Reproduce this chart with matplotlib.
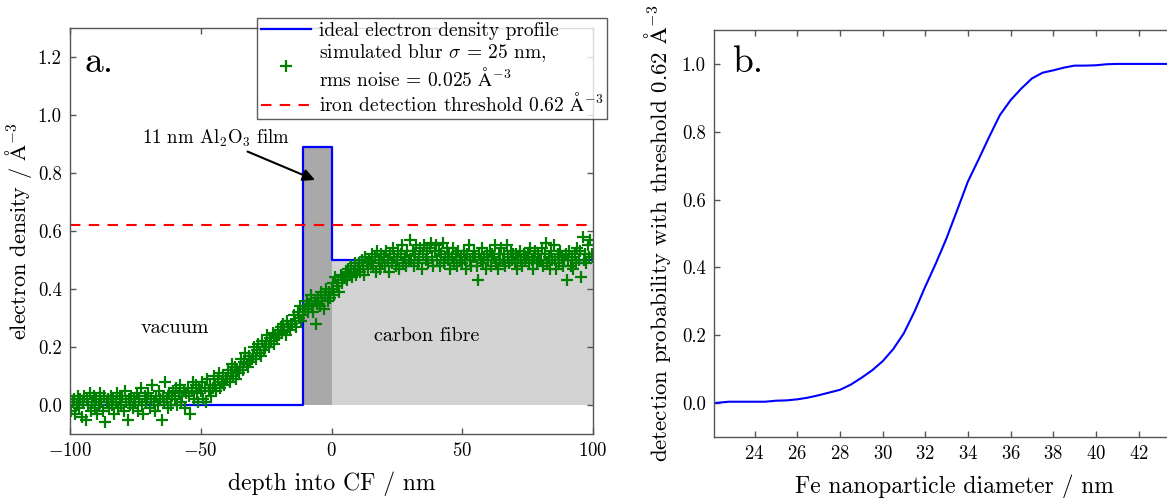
import numpy as np
import matplotlib
matplotlib.use("Agg")
import matplotlib.pyplot as plt

plt.rcParams['font.family'] = 'serif'
plt.rcParams['font.serif'] = ['cmr10']
plt.rcParams['mathtext.fontset'] = 'cm'
plt.rcParams['axes.formatter.use_mathtext'] = True
plt.rcParams['axes.unicode_minus'] = True

# panel a: ideal profile (step edges) and simulated noisy blurred profile
profile_x = [-100, -11, -11, 0, 0, 100]
profile_y = [0.0, 0.0, 0.89, 0.89, 0.5, 0.5]
film_x = [-11, 0]
film_top = 0.89
fibre_x = [0, 100]
fibre_top = 0.5
threshold = 0.62

depth = np.arange(-100, 100.5, 0.5)
density = [
    0.03, -0.02, 0.01, 0.02, -0.03, 0.00, 0.03, -0.01, 0.02, -0.04,
    0.01, 0.03, -0.05, 0.02, 0.00, 0.04, -0.02, 0.01, 0.03, -0.01,
    0.02, -0.03, 0.00, 0.04, 0.01, -0.02, 0.03, -0.06, 0.01, 0.02,
    -0.01, 0.03, 0.00, 0.02, -0.03, 0.01, 0.04, -0.01, 0.02, 0.00,
    0.03, -0.02, 0.05, 0.01, -0.05, 0.02, 0.00, 0.03, -0.01, 0.02,
    0.01, 0.04, -0.02, 0.02, 0.06, 0.00, -0.03, 0.03, 0.01, 0.02,
    0.04, -0.01, 0.02, 0.07, 0.01, -0.02, 0.03, 0.00, 0.05, 0.02,
    -0.05, 0.03, 0.01, 0.08, 0.02, -0.01, 0.04, 0.00, 0.03, 0.05,
    0.02, 0.06, 0.00, 0.04, 0.07, 0.01, 0.03, 0.05, -0.01, 0.04,
    0.06, 0.03, -0.03, 0.05, 0.08, 0.02, 0.07, 0.04, 0.01, 0.06,
    0.05, 0.08, 0.02, 0.06, 0.01, 0.09, 0.05, 0.07, 0.03, 0.06,
    0.10, 0.07, 0.05, 0.09, 0.11, 0.06, 0.08, 0.10, 0.07, 0.09,
    0.09, 0.12, 0.08, 0.11, 0.14, 0.10, 0.13, 0.09, 0.12, 0.11,
    0.13, 0.16, 0.12, 0.15, 0.18, 0.14, 0.13, 0.17, 0.15, 0.16,
    0.17, 0.20, 0.16, 0.19, 0.21, 0.18, 0.17, 0.22, 0.19, 0.20,
    0.21, 0.24, 0.20, 0.23, 0.22, 0.25, 0.21, 0.24, 0.23, 0.26,
    0.24, 0.27, 0.25, 0.28, 0.26, 0.24, 0.29, 0.27, 0.26, 0.28,
    0.28, 0.31, 0.29, 0.27, 0.32, 0.30, 0.34, 0.29, 0.31, 0.33,
    0.33, 0.36, 0.32, 0.35, 0.38, 0.34, 0.32, 0.36, 0.28, 0.35,
    0.37, 0.34, 0.39, 0.36, 0.33, 0.38, 0.40, 0.36, 0.39, 0.37,
    0.40, 0.42, 0.38, 0.44, 0.41, 0.43, 0.39, 0.45, 0.42, 0.44,
    0.44, 0.46, 0.43, 0.47, 0.45, 0.48, 0.44, 0.46, 0.49, 0.45,
    0.47, 0.49, 0.46, 0.50, 0.48, 0.45, 0.51, 0.49, 0.47, 0.50,
    0.49, 0.52, 0.48, 0.51, 0.46, 0.53, 0.50, 0.47, 0.52, 0.49,
    0.51, 0.48, 0.53, 0.50, 0.46, 0.52, 0.49, 0.54, 0.51, 0.48,
    0.50, 0.53, 0.47, 0.52, 0.55, 0.49, 0.51, 0.48, 0.53, 0.50,
    0.57, 0.50, 0.53, 0.48, 0.52, 0.55, 0.49, 0.51, 0.54, 0.47,
    0.52, 0.55, 0.50, 0.53, 0.49, 0.54, 0.56, 0.51, 0.48, 0.53,
    0.55, 0.50, 0.53, 0.48, 0.52, 0.56, 0.49, 0.51, 0.54, 0.50,
    0.52, 0.47, 0.51, 0.54, 0.49, 0.52, 0.48, 0.53, 0.50, 0.51,
    0.49, 0.53, 0.50, 0.47, 0.52, 0.55, 0.50, 0.48, 0.51, 0.53,
    0.51, 0.48, 0.43, 0.52, 0.50, 0.54, 0.49, 0.51, 0.47, 0.52,
    0.50, 0.53, 0.48, 0.52, 0.51, 0.55, 0.49, 0.47, 0.52, 0.50,
    0.54, 0.50, 0.52, 0.48, 0.55, 0.51, 0.49, 0.53, 0.50, 0.52,
    0.49, 0.52, 0.47, 0.51, 0.53, 0.50, 0.48, 0.52, 0.50, 0.51,
    0.52, 0.49, 0.54, 0.50, 0.47, 0.51, 0.53, 0.49, 0.52, 0.50,
    0.50, 0.54, 0.48, 0.52, 0.56, 0.49, 0.51, 0.47, 0.53, 0.50,
    0.55, 0.50, 0.47, 0.52, 0.49, 0.53, 0.51, 0.48, 0.50, 0.52,
    0.43, 0.50, 0.53, 0.48, 0.51, 0.47, 0.52, 0.49, 0.54, 0.50,
    0.53, 0.44, 0.58, 0.50, 0.52, 0.49, 0.55, 0.51, 0.57, 0.52,
    0.51,
]

# panel b: detection probability vs particle diameter
diameter = [22.1, 22.8, 24.5, 25.0, 25.5, 26.0, 26.5, 27.0, 27.5, 28.0,
            28.5, 29.0, 29.5, 30.0, 30.5, 31.0, 31.5, 32.0, 32.5, 33.0,
            33.5, 34.0, 34.5, 35.0, 35.5, 36.0, 36.5, 37.0, 37.5, 38.0,
            38.5, 39.0, 39.5, 40.0, 40.5, 41.0, 42.0, 43.0, 44.0, 45.0]
probability = [0.0, 0.004, 0.004, 0.007, 0.008, 0.011, 0.016, 0.023, 0.031, 0.039,
               0.054, 0.074, 0.096, 0.123, 0.159, 0.206, 0.27, 0.343, 0.412, 0.486,
               0.569, 0.653, 0.718, 0.785, 0.849, 0.893, 0.927, 0.957, 0.974, 0.981,
               0.989, 0.995, 0.995, 0.996, 0.999, 1.0, 1.0, 1.0, 1.0, 1.0]

W, H = 1167, 498
fig = plt.figure(figsize=(W / 100, H / 100), dpi=100)
ax1 = fig.add_axes([70 / W, 1 - 434 / H, 523 / W, 406 / H])
ax2 = fig.add_axes([714 / W, 1 - 437 / H, 480 / W, 407 / H])

spine_col = '#555555'
for ax in (ax1, ax2):
    for s in ax.spines.values():
        s.set_color(spine_col)
        s.set_linewidth(1.0)
    ax.tick_params(direction='in', length=4, width=1, color=spine_col,
                   top=True, right=True, labelsize=13.5, pad=6)

# panel a
ax1.fill_between(fibre_x, 0, fibre_top, color='#d3d3d3', lw=0)
ax1.fill_between(film_x, 0, film_top, color='#a9a9a9', lw=0)
ax1.plot(profile_x, profile_y, color='blue', lw=1.6,
         label='ideal electron density profile')
ax1.plot(depth, density, '+', color='green', ms=8, mew=1.6, ls='none',
         label='simulated blur $\\sigma$ = 25 nm,\nrms noise = 0.025 $\\mathrm{\\AA}^{-3}$')
ax1.axhline(threshold, color='red', ls='--', lw=1.5, dashes=(5, 4),
            label='iron detection threshold 0.62 $\\mathrm{\\AA}^{-3}$')
ax1.set_xlim(-100, 100)
ax1.set_ylim(-0.1, 1.3)
ax1.set_xticks([-100, -50, 0, 50, 100])
ax1.set_yticks([0.0, 0.2, 0.4, 0.6, 0.8, 1.0, 1.2])
ax1.yaxis.set_major_formatter(plt.FuncFormatter(lambda v, p: f'{v:.1f}'))
ax1.set_xlabel('depth into CF / nm', fontsize=17, labelpad=8)
ax1.set_ylabel('electron density / $\\mathrm{\\AA}^{-3}$', fontsize=16, labelpad=3)
ax1.text(-94.6, 1.148, 'a.', fontsize=27)
ax1.text(-60, 0.265, 'vacuum', fontsize=14.5, ha='center', va='center')
ax1.text(36.5, 0.238, 'carbon fibre', fontsize=14.5, ha='center', va='center')
ax1.annotate('11 nm Al$_2$O$_3$ film', xy=(-6.3, 0.776), xytext=(-16, 0.92),
             ha='right', va='center', fontsize=13.5,
             arrowprops=dict(arrowstyle='-|>', color='black', lw=1.5,
                             mutation_scale=18, shrinkA=0, shrinkB=0))

leg = fig.legend(loc='upper left', bbox_to_anchor=(257 / W, 1 - 18 / H),
                 fontsize=14, frameon=True, fancybox=False, borderpad=0.2,
                 handlelength=2.6, labelspacing=0.1, handletextpad=0.4,
                 borderaxespad=0)
leg.get_frame().set_edgecolor('#333333')
leg.get_frame().set_linewidth(1.0)

# panel b
ax2.plot(diameter, probability, color='blue', lw=1.5)
ax2.set_xlim(22.1, 44.6)
ax2.set_ylim(-0.1, 1.1)
ax2.set_xticks([24, 26, 28, 30, 32, 34, 36, 38, 40, 42])
ax2.set_yticks([0.0, 0.2, 0.4, 0.6, 0.8, 1.0])
ax2.yaxis.set_major_formatter(plt.FuncFormatter(lambda v, p: f'{v:.1f}'))
ax2.set_xlabel('Fe nanoparticle diameter / nm', fontsize=17, labelpad=8)
ax2.set_ylabel('detection probability with threshold 0.62 $\\mathrm{\\AA}^{-3}$',
               fontsize=16.5, labelpad=6)
ax2.text(22.95, 0.976, 'b.', fontsize=27)

fig.savefig('out.png', dpi=100)
